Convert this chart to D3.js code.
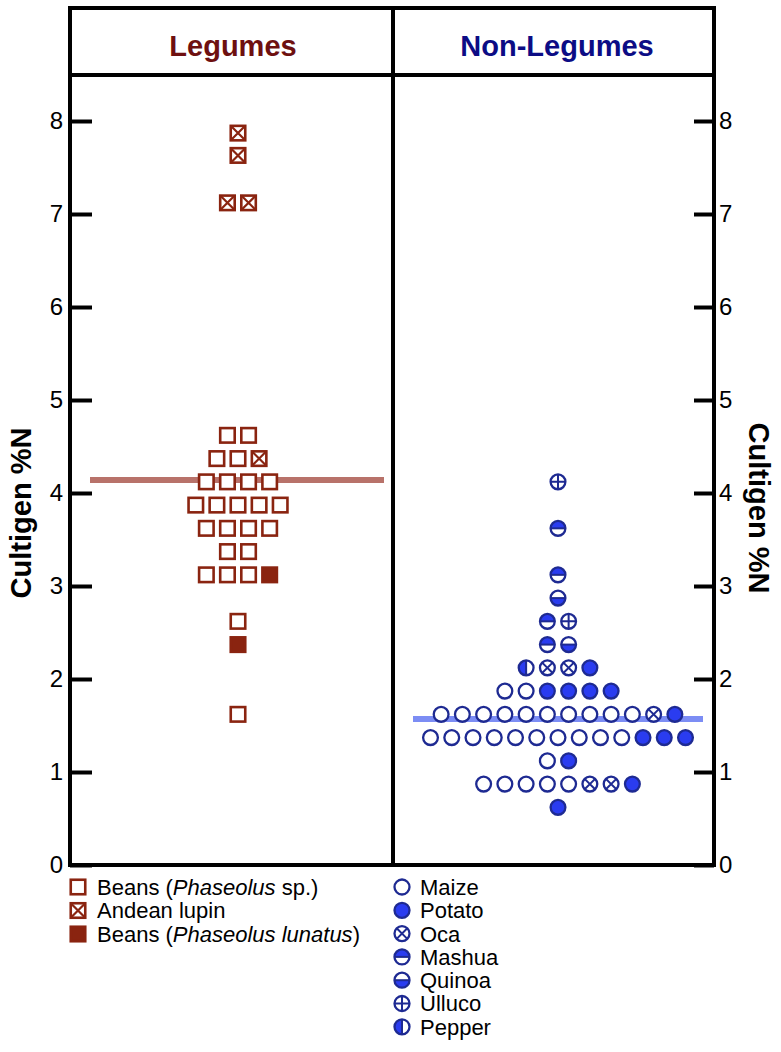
<!DOCTYPE html>
<html>
<head>
<meta charset="utf-8">
<script src="https://cdn.jsdelivr.net/npm/d3@7/dist/d3.min.js"></script>
<style>
  html, body { margin: 0; padding: 0; background: #fff; }
  svg { display: block; font-family: "Liberation Sans", Arial, sans-serif; }
</style>
</head>
<body>
<svg id="chart" width="781" height="1052"></svg>
<script>
// ---------------- DATA ----------------
const panels = ["Legumes", "Non-Legumes"];
const yTicks = [0, 1, 2, 3, 4, 5, 6, 7, 8];
const yTitle = "Cultigen %N";

// Legumes (Cultigen %N)
const beansSp = [4.62, 4.62, 4.37, 4.37, 4.12, 4.12, 4.12, 4.12,
  3.87, 3.87, 3.87, 3.87, 3.87, 3.62, 3.62, 3.62, 3.62, 3.37, 3.37,
  3.12, 3.12, 3.12, 2.62, 1.62];
const andeanLupin = [7.87, 7.63, 7.12, 7.12, 4.37];
const beansLunatus = [3.12, 2.37];
const legumeMean = 4.14;

// Non-legumes (Cultigen %N)
const maize = [1.87, 1.87,
  1.62, 1.62, 1.62, 1.62, 1.62, 1.62, 1.62, 1.62, 1.62, 1.62,
  1.37, 1.37, 1.37, 1.37, 1.37, 1.37, 1.37, 1.37, 1.37, 1.37,
  1.12, 0.87, 0.87, 0.87, 0.87, 0.87];
const pepper = [2.12];
const mashua = [3.62, 3.12, 2.62, 2.37];
const quinoa = [2.87, 2.37];
const ulluco = [4.12, 2.62];
const oca = [2.12, 2.12, 1.62, 0.87, 0.87];
const potato = [2.12, 1.87, 1.87, 1.87, 1.87, 1.62, 1.37, 1.37, 1.37, 1.12, 0.87, 0.62];
const nonLegumeMean = 1.57;

// series definitions (order = order within a row)
const legumeSeries = [
  { key: "open", label: ["Beans (", "Phaseolus", " sp.)"], values: beansSp },
  { key: "cross", label: ["Andean lupin"], values: andeanLupin },
  { key: "filled", label: ["Beans (", "Phaseolus lunatus", ")"], values: beansLunatus }
];
const nonLegumeSeries = [
  { key: "maize", label: "Maize", values: maize },
  { key: "pepper", label: "Pepper", values: pepper },
  { key: "mashua", label: "Mashua", values: mashua },
  { key: "quinoa", label: "Quinoa", values: quinoa },
  { key: "ulluco", label: "Ulluco", values: ulluco },
  { key: "oca", label: "Oca", values: oca },
  { key: "potato", label: "Potato", values: potato }
];
const nonLegumeLegendOrder = ["maize", "potato", "oca", "mashua", "quinoa", "ulluco", "pepper"];

// ---------------- STYLE / LAYOUT ----------------
const frame = { left: 70, right: 714, top: 8, headerBottom: 75, bottom: 865, divider: 393 };
const legColor = "#8a2410";
const legHeader = "#6e1010";
const nlStroke = "#1e2a92";
const nlFill = "#2a3cf0";
const nlHeader = "#0c0c85";
const legMeanColor = "#b8726a";
const nlMeanColor = "#7c8df4";

const svg = d3.select("#chart");

const y = d3.scaleLinear().domain([0, 8]).range([frame.bottom, frame.bottom - 8 * 93]);
const panelCenter = d3.scaleOrdinal().domain(panels).range([238, 558]);
const headerCenter = d3.scaleOrdinal().domain(panels).range([233, 557]);
const slotLeg = d3.scaleLinear().domain([0, 1]).range([0, 21.1]);
const slotNl = d3.scaleLinear().domain([0, 1]).range([0, 21.25]);

function swarm(series) {
  const pts = [];
  series.forEach(s => s.values.forEach(v => pts.push({ key: s.key, v })));
  const groups = d3.group(pts, d => d.v);
  groups.forEach(arr => {
    const n = arr.length;
    arr.forEach((p, i) => { p.slot = i - (n - 1) / 2; });
  });
  return pts;
}

// ---------------- FRAME ----------------
svg.append("rect")
  .attr("x", frame.left).attr("y", frame.top)
  .attr("width", frame.right - frame.left).attr("height", frame.bottom - frame.top)
  .attr("fill", "none").attr("stroke", "#000").attr("stroke-width", 4);
svg.append("line")
  .attr("x1", frame.left).attr("x2", frame.right)
  .attr("y1", frame.headerBottom).attr("y2", frame.headerBottom)
  .attr("stroke", "#000").attr("stroke-width", 4);
svg.append("line")
  .attr("x1", frame.divider).attr("x2", frame.divider)
  .attr("y1", frame.top).attr("y2", frame.bottom)
  .attr("stroke", "#000").attr("stroke-width", 4);

// headers
svg.selectAll("text.header").data(panels).enter().append("text")
  .attr("class", "header")
  .attr("x", d => headerCenter(d)).attr("y", 56)
  .attr("text-anchor", "middle")
  .attr("font-size", 29).attr("font-weight", "bold")
  .attr("fill", (d, i) => i === 0 ? legHeader : nlHeader)
  .text(d => d);

// ---------------- AXES ----------------
const axL = svg.append("g").attr("transform", `translate(${frame.left},0)`)
  .call(d3.axisLeft(y).tickValues(yTicks).tickSizeInner(-22).tickSizeOuter(0).tickPadding(7).tickFormat(d3.format("d")));
const axR = svg.append("g").attr("transform", `translate(${frame.right},0)`)
  .call(d3.axisRight(y).tickValues(yTicks).tickSizeInner(-20).tickSizeOuter(0).tickPadding(5).tickFormat(d3.format("d")));
[axL, axR].forEach(ax => {
  ax.select(".domain").remove();
  ax.selectAll(".tick line").attr("stroke", "#000").attr("stroke-width", 4);
  ax.selectAll(".tick text").attr("font-size", 24).attr("fill", "#000")
    .attr("font-family", "'Liberation Sans', Arial, sans-serif");
});

svg.append("text")
  .attr("transform", `translate(31,513) rotate(-90)`)
  .attr("text-anchor", "middle").attr("font-size", 29).attr("font-weight", "bold")
  .text(yTitle);
svg.append("text")
  .attr("transform", `translate(749,508) rotate(90)`)
  .attr("text-anchor", "middle").attr("font-size", 29).attr("font-weight", "bold")
  .text(yTitle);

// ---------------- MEAN LINES ----------------
svg.append("line")
  .attr("x1", frame.left + 20).attr("x2", frame.divider - 9)
  .attr("y1", y(legumeMean)).attr("y2", y(legumeMean))
  .attr("stroke", legMeanColor).attr("stroke-width", 6);
svg.append("line")
  .attr("x1", frame.divider + 20).attr("x2", frame.right - 11)
  .attr("y1", y(nonLegumeMean)).attr("y2", y(nonLegumeMean))
  .attr("stroke", nlMeanColor).attr("stroke-width", 6);

// ---------------- SYMBOLS ----------------
const SQ = 14.5, SQW = 2.6;
function drawSquare(g, key, size) {
  const h = size / 2;
  g.append("rect").attr("x", -h).attr("y", -h).attr("width", size).attr("height", size)
    .attr("fill", key === "filled" ? legColor : "#fff")
    .attr("stroke", legColor).attr("stroke-width", SQW);
  if (key === "cross") {
    g.append("path").attr("d", `M${-h},${-h}L${h},${h}M${h},${-h}L${-h},${h}`)
      .attr("stroke", legColor).attr("stroke-width", 2.2).attr("fill", "none");
  }
}

const CR = 7.4, CW = 2.3;
function drawCircle(g, key, r) {
  g.append("circle").attr("r", r)
    .attr("fill", key === "potato" ? nlFill : "#fff");
  const arc = d3.arc().innerRadius(0).outerRadius(r);
  let half = null;
  if (key === "mashua") half = { startAngle: -Math.PI / 2, endAngle: Math.PI / 2 };
  if (key === "quinoa") half = { startAngle: Math.PI / 2, endAngle: 3 * Math.PI / 2 };
  if (key === "pepper") half = { startAngle: Math.PI, endAngle: 2 * Math.PI };
  if (half) g.append("path").attr("d", arc(half)).attr("fill", nlFill);
  const ln = (d) => g.append("path").attr("d", d).attr("stroke", nlStroke).attr("stroke-width", 2).attr("fill", "none");
  if (key === "mashua" || key === "quinoa") ln(`M${-r},0H${r}`);
  if (key === "pepper") ln(`M0,${-r}V${r}`);
  if (key === "ulluco") ln(`M${-r},0H${r}M0,${-r}V${r}`);
  if (key === "oca") {
    const k = r * Math.SQRT1_2;
    ln(`M${-k},${-k}L${k},${k}M${k},${-k}L${-k},${k}`);
  }
  g.append("circle").attr("r", r).attr("fill", "none")
    .attr("stroke", nlStroke).attr("stroke-width", CW);
}

// legumes points
const legPts = swarm(legumeSeries);
svg.append("g").selectAll("g").data(legPts).enter().append("g")
  .attr("transform", d => `translate(${panelCenter("Legumes") + slotLeg(d.slot)},${y(d.v)})`)
  .each(function (d) { drawSquare(d3.select(this), d.key, SQ); });

// non-legume points
const nlPts = swarm(nonLegumeSeries);
svg.append("g").selectAll("g").data(nlPts).enter().append("g")
  .attr("transform", d => `translate(${panelCenter("Non-Legumes") + slotNl(d.slot)},${y(d.v)})`)
  .each(function (d) { drawCircle(d3.select(this), d.key, CR); });

// ---------------- LEGENDS ----------------
const legL = svg.append("g");
legumeSeries.forEach((s, i) => {
  const cy = 887 + i * 23.5;
  const g = legL.append("g").attr("transform", `translate(78,${cy})`);
  drawSquare(g, s.key, 14.5);
  const t = legL.append("text").attr("x", 97).attr("y", cy).attr("dy", "0.36em")
    .attr("font-size", 22).attr("fill", "#000");
  s.label.forEach((part, j) => {
    t.append("tspan").text(part).attr("font-style", j === 1 ? "italic" : "normal");
  });
});

const legR = svg.append("g");
nonLegumeLegendOrder.forEach((k, i) => {
  const s = nonLegumeSeries.find(d => d.key === k);
  const cy = 887 + i * 23.3;
  const g = legR.append("g").attr("transform", `translate(402,${cy})`);
  drawCircle(g, k, 7.5);
  legR.append("text").attr("x", 420).attr("y", cy).attr("dy", "0.36em")
    .attr("font-size", 22).attr("fill", "#000").text(s.label);
});
</script>
</body>
</html>
